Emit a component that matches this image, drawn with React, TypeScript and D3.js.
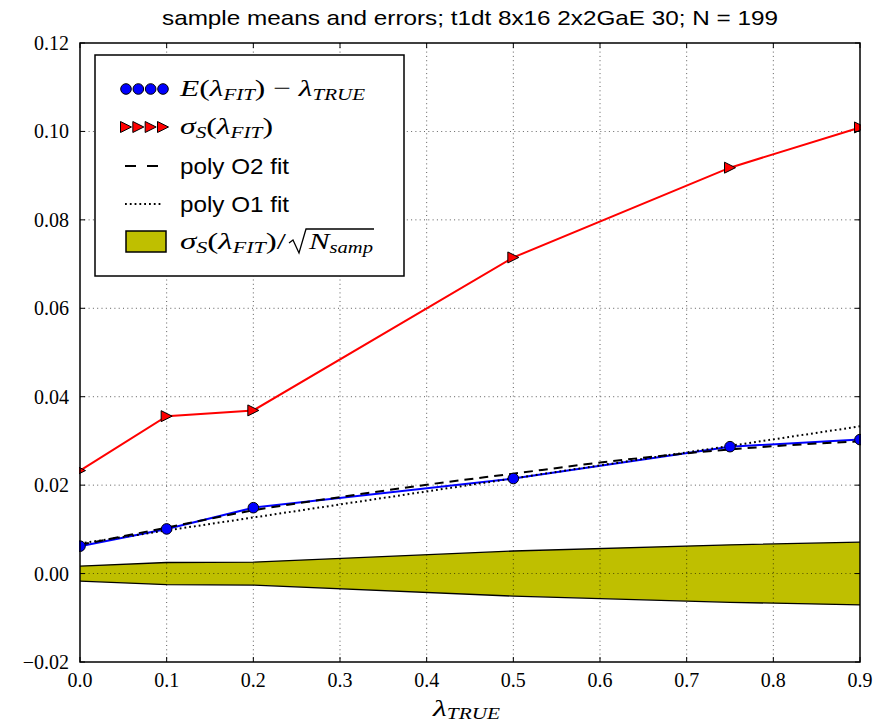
import React from "react";
import * as d3 from "d3";

// ---------- data ----------
const lambdaTrue = [0, 0.1, 0.2, 0.5, 0.75, 0.9];
const meanBias = [0.0062, 0.0101, 0.0149, 0.0215, 0.0287, 0.0303];
const sigmaS = [0.0233, 0.0356, 0.0369, 0.0715, 0.0918, 0.1009];
const bandHalfWidth = [0.0017, 0.0025, 0.0026, 0.0051, 0.0065, 0.0071];
const polyO2X = [0, 0.1, 0.2, 0.3, 0.4, 0.5, 0.6, 0.7, 0.8, 0.9];
const polyO2 = [0.0065, 0.0104, 0.0143, 0.0173, 0.0201, 0.0226, 0.0251, 0.0272, 0.0288, 0.0299];
const polyO1X = [0, 0.9];
const polyO1 = [0.0068, 0.0333];
const xTicks = [0, 0.1, 0.2, 0.3, 0.4, 0.5, 0.6, 0.7, 0.8, 0.9];
const yTicks = [-0.02, 0, 0.02, 0.04, 0.06, 0.08, 0.1, 0.12];
const titleText = "sample means and errors; t1dt 8x16 2x2GaE 30; N = 199";

const W = 887, H = 725;
const L = 80, R = 860, T = 43, B = 662;

const SERIF = "'Liberation Serif', 'Times New Roman', serif";
const SANS = "'Liberation Sans', Arial, sans-serif";

export default function App() {
  const x = d3.scaleLinear().domain([0, 0.9]).range([L, R]);
  const y = d3.scaleLinear().domain([-0.02, 0.12]).range([B, T]);

  const idx = lambdaTrue.map((_, i) => i);
  const lineBlue = d3.line<number>().x((i) => x(lambdaTrue[i])).y((i) => y(meanBias[i]))(idx)!;
  const lineRed = d3.line<number>().x((i) => x(lambdaTrue[i])).y((i) => y(sigmaS[i]))(idx)!;
  const area = d3
    .area<number>()
    .x((i) => x(lambdaTrue[i]))
    .y0((i) => y(-bandHalfWidth[i]))
    .y1((i) => y(bandHalfWidth[i]))(idx)!;
  const upper = d3.line<number>().x((i) => x(lambdaTrue[i])).y((i) => y(bandHalfWidth[i]))(idx)!;
  const lower = d3.line<number>().x((i) => x(lambdaTrue[i])).y((i) => y(-bandHalfWidth[i]))(idx)!;
  const o2 = d3
    .line<number>()
    .curve(d3.curveMonotoneX)
    .x((i) => x(polyO2X[i]))
    .y((i) => y(polyO2[i]))(polyO2X.map((_, i) => i))!;
  const o1 = d3
    .line<number>()
    .x((i) => x(polyO1X[i]))
    .y((i) => y(polyO1[i]))(polyO1X.map((_, i) => i))!;

  const tri = (cx: number, cy: number, s = 5.5) =>
    `M${cx + s},${cy} L${cx - s},${cy - s} L${cx - s},${cy + s} Z`;

  const fmtY = (v: number) => {
    const s = Math.abs(v).toFixed(2);
    return v < 0 ? "\u2212" + s : s;
  };

  const legX = 95, legY = 55, legW = 309, legH = 221;
  const rows = [89, 127, 166, 204, 242];
  const hx0 = 126, hx1 = 163;
  const tx = 180;
  const MF = 24; // math font size
  const SF = 16; // subscript font size

  return (
    <svg
      width={W}
      height={H}
      style={{ position: "absolute", left: 0, top: 0, background: "#fff" }}
      xmlns="http://www.w3.org/2000/svg"
    >
      <rect x={0} y={0} width={W} height={H} fill="#fff" />
      {/* title */}
      <text
        x={(L + R) / 2}
        y={25}
        textAnchor="middle"
        fontFamily={SANS}
        fontSize={21}
        textLength={616}
        lengthAdjust="spacingAndGlyphs"
      >
        {titleText}
      </text>

      {/* band */}
      <path d={area} fill="#bfbf00" stroke="none" />
      <path d={upper} fill="none" stroke="#000" strokeWidth={1.3} />
      <path d={lower} fill="none" stroke="#000" strokeWidth={1.3} />

      {/* grid */}
      {xTicks.slice(1, -1).map((t) => (
        <line key={"gx" + t} x1={x(t)} x2={x(t)} y1={T} y2={B} stroke="#000" strokeWidth={0.8} strokeDasharray="1,3.3" opacity={0.8} />
      ))}
      {yTicks.slice(1, -1).map((t) => (
        <line key={"gy" + t} x1={L} x2={R} y1={y(t)} y2={y(t)} stroke="#000" strokeWidth={0.8} strokeDasharray="1,3.3" opacity={0.8} />
      ))}

      {/* lines */}
      <path d={lineRed} fill="none" stroke="#ff0000" strokeWidth={2} />
      <path d={lineBlue} fill="none" stroke="#0000ff" strokeWidth={2} />
      <path d={o2} fill="none" stroke="#000" strokeWidth={2} strokeDasharray="9,6" />
      <path d={o1} fill="none" stroke="#000" strokeWidth={2} strokeDasharray="1.8,3" />

      {/* markers */}
      {idx.map((i) => (
        <circle key={"c" + i} cx={x(lambdaTrue[i])} cy={y(meanBias[i])} r={5.3} fill="#0000ff" stroke="#000" strokeWidth={1} />
      ))}
      {idx.map((i) => (
        <path key={"t" + i} d={tri(x(lambdaTrue[i]), y(sigmaS[i]))} fill="#ff0000" stroke="#000" strokeWidth={1} />
      ))}

      {/* cover marker parts outside axes */}
      <rect x={R + 1} y={T - 10} width={W - R} height={B - T + 20} fill="#fff" />
      <rect x={0} y={T - 10} width={L - 1} height={B - T + 20} fill="#fff" />

      {/* axes frame */}
      <rect x={L} y={T} width={R - L} height={B - T} fill="none" stroke="#000" strokeWidth={1.5} />

      {/* ticks */}
      {xTicks.map((t) => (
        <g key={"xt" + t}>
          <line x1={x(t)} x2={x(t)} y1={B} y2={B - 5} stroke="#000" strokeWidth={1} />
          <line x1={x(t)} x2={x(t)} y1={T} y2={T + 5} stroke="#000" strokeWidth={1} />
          <text x={x(t)} y={687} textAnchor="middle" fontFamily={SERIF} fontSize={20}>
            {t.toFixed(1)}
          </text>
        </g>
      ))}
      {yTicks.map((t) => (
        <g key={"yt" + t}>
          <line x1={L} x2={L + 5} y1={y(t)} y2={y(t)} stroke="#000" strokeWidth={1} />
          <line x1={R} x2={R - 5} y1={y(t)} y2={y(t)} stroke="#000" strokeWidth={1} />
          <text x={69} y={y(t) + 7} textAnchor="end" fontFamily={SERIF} fontSize={20}>
            {fmtY(t)}
          </text>
        </g>
      ))}

      {/* x label */}
      <text x={433} y={716} fontFamily={SERIF} fontSize={MF} fontStyle="italic" textLength={67} lengthAdjust="spacingAndGlyphs">
        λ<tspan fontSize={SF} dy={3}>TRUE</tspan>
      </text>

      {/* legend */}
      <rect x={legX} y={legY} width={legW} height={legH} fill="#fff" stroke="#000" strokeWidth={1.5} />
      {/* row 1 */}
      {[0, 1, 2, 3].map((k) => (
        <circle key={"lc" + k} cx={hx0 + (k * (hx1 - hx0)) / 3} cy={rows[0]} r={5.3} fill="#0000ff" stroke="#000" strokeWidth={1} />
      ))}
      <text x={tx} y={rows[0] + 7} fontFamily={SERIF} fontSize={MF} textLength={185} lengthAdjust="spacingAndGlyphs">
        <tspan fontStyle="italic">E</tspan>(<tspan fontStyle="italic">λ</tspan>
        <tspan fontStyle="italic" fontSize={SF} dy={4}>FIT</tspan>
        <tspan dy={-4}>) − </tspan>
        <tspan fontStyle="italic">λ</tspan>
        <tspan fontStyle="italic" fontSize={SF} dy={4}>TRUE</tspan>
      </text>
      {/* row 2 */}
      {[0, 1, 2, 3].map((k) => (
        <path key={"lt" + k} d={tri(hx0 + (k * (hx1 - hx0)) / 3, rows[1])} fill="#ff0000" stroke="#000" strokeWidth={1} />
      ))}
      <text x={tx} y={rows[1] + 7} fontFamily={SERIF} fontSize={MF} textLength={93} lengthAdjust="spacingAndGlyphs">
        <tspan fontStyle="italic">σ</tspan>
        <tspan fontStyle="italic" fontSize={SF} dy={4}>S</tspan>
        <tspan dy={-4}>(</tspan>
        <tspan fontStyle="italic">λ</tspan>
        <tspan fontStyle="italic" fontSize={SF} dy={4}>FIT</tspan>
        <tspan dy={-4}>)</tspan>
      </text>
      {/* row 3 */}
      <line x1={125} x2={159} y1={rows[2]} y2={rows[2]} stroke="#000" strokeWidth={2} strokeDasharray="11,11" />
      <text x={tx} y={rows[2] + 8} fontFamily={SANS} fontSize={22} textLength={109} lengthAdjust="spacingAndGlyphs">
        poly O2 fit
      </text>
      {/* row 4 */}
      <line x1={125} x2={161} y1={rows[3]} y2={rows[3]} stroke="#000" strokeWidth={2} strokeDasharray="1.8,3" />
      <text x={tx} y={rows[3] + 8} fontFamily={SANS} fontSize={22} textLength={109} lengthAdjust="spacingAndGlyphs">
        poly O1 fit
      </text>
      {/* row 5 */}
      <rect x={126} y={rows[4] - 11} width={40} height={21} fill="#bfbf00" stroke="#000" strokeWidth={1.5} />
      <text x={tx} y={rows[4] + 7} fontFamily={SERIF} fontSize={MF} textLength={106} lengthAdjust="spacingAndGlyphs">
        <tspan fontStyle="italic">σ</tspan>
        <tspan fontStyle="italic" fontSize={SF} dy={4}>S</tspan>
        <tspan dy={-4}>(</tspan>
        <tspan fontStyle="italic">λ</tspan>
        <tspan fontStyle="italic" fontSize={SF} dy={4}>FIT</tspan>
        <tspan dy={-4}>)/</tspan>
      </text>
      <path
        d={`M289,${rows[4] + 1} L293,${rows[4] - 2} L299,${rows[4] + 11} L306,${rows[4] - 13} L374,${rows[4] - 13}`}
        fill="none"
        stroke="#000"
        strokeWidth={1.3}
      />
      <text x={309} y={rows[4] + 7} fontFamily={SERIF} fontSize={MF} textLength={64} lengthAdjust="spacingAndGlyphs">
        <tspan fontStyle="italic">N</tspan>
        <tspan fontStyle="italic" fontSize={SF} dy={4}>samp</tspan>
      </text>
    </svg>
  );
}
